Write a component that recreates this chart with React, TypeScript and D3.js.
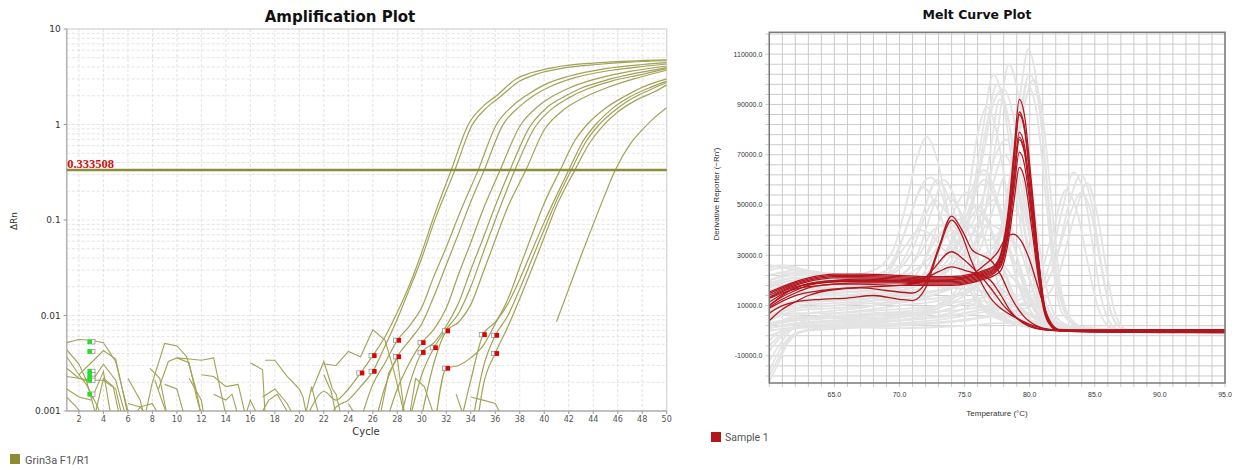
import React, { useEffect, useRef } from 'react';
import * as d3 from 'd3';

type Pt = [number, number | null];

// ---------- Amplification plot (cycle, ΔRn) ----------
const cycleTicks = [2, 4, 6, 8, 10, 12, 14, 16, 18, 20, 22, 24, 26, 28, 30, 32, 34, 36, 38, 40, 42, 44, 46, 48, 50];
const rnTicks = [10, 1, 0.1, 0.01, 0.001];
const rnTickLabels = ['10', '1', '0.1', '0.01', '0.001'];
const threshold = 0.333508;

// amplified wells
const ampCurves: Pt[][] = [
  [[20, 0.0005], [21, 0.0011], [22, 0.0016], [23, 0.0013], [24, 0.0017], [25, 0.0025], [26, 0.0038], [27, 0.006], [28, 0.0108], [29, 0.021], [30, 0.046], [31, 0.11], [32.4, 0.333], [33.8, 1.0], [35, 1.55], [36.1, 2.0], [37.7, 3.0], [39, 3.5], [41, 4.0], [44, 4.4], [47, 4.62], [50, 4.75]],
  [[22, 0.0006], [23, 0.0011], [24, 0.0013], [25, 0.0018], [26, 0.0026], [27, 0.0048], [28, 0.0092], [29, 0.019], [30, 0.04], [31, 0.095], [32.7, 0.333], [34.1, 0.98], [35.3, 1.5], [36.4, 1.95], [38, 2.85], [39.3, 3.35], [41.3, 3.85], [44.3, 4.25], [47, 4.5], [50, 4.65]],
  [[25, 0.0008], [26, 0.0019], [27, 0.0032], [28, 0.0055], [29, 0.0078], [30, 0.0122], [31, 0.026], [32, 0.052], [33, 0.11], [34.6, 0.333], [36.1, 1.0], [37.5, 1.6], [38.5, 2.0], [40, 2.6], [42, 3.2], [45, 3.85], [48, 4.25], [50, 4.45]],
  [[26, 0.0006], [27, 0.0018], [28, 0.0037], [29, 0.0055], [30, 0.0082], [31, 0.016], [32, 0.034], [33, 0.072], [34, 0.155], [35.1, 0.333], [36.6, 0.98], [38, 1.55], [39, 1.95], [40.5, 2.5], [42.5, 3.1], [45.5, 3.7], [48, 4.05], [50, 4.3]],
  [[27, 0.0007], [28, 0.0017], [29, 0.0032], [30, 0.0052], [31, 0.0072], [32, 0.012], [33, 0.027], [34, 0.058], [35, 0.128], [36.4, 0.333], [38, 0.96], [39.5, 1.55], [40.6, 1.95], [42, 2.4], [44, 2.95], [47, 3.6], [50, 4.1]],
  [[28, 0.0006], [29, 0.0019], [30, 0.0041], [31, 0.0052], [32, 0.0078], [33, 0.0135], [34, 0.03], [35, 0.064], [36, 0.14], [37.2, 0.333], [38.8, 0.94], [40.2, 1.5], [41.5, 1.92], [43, 2.4], [45, 2.9], [47.5, 3.45], [50, 3.95]],
  [[29, 0.0008], [30, 0.0024], [31, 0.0046], [32, 0.0072], [33, 0.0105], [34, 0.02], [35, 0.045], [36, 0.1], [37.6, 0.333], [39.2, 0.92], [40.6, 1.45], [42, 1.9], [43.5, 2.35], [45.5, 2.85], [48, 3.35], [50, 3.85]],
  [[30, 0.0009], [31, 0.0032], [32, 0.0069], [33, 0.0085], [34, 0.013], [35, 0.028], [36, 0.062], [37, 0.135], [38.5, 0.333], [40, 0.88], [41.5, 1.4], [43, 1.85], [45, 2.4], [47.5, 3.05], [50, 3.7]],
  [[31, 0.0006], [32, 0.0028], [33, 0.003], [34, 0.0036], [35, 0.0048], [36, 0.0082], [37, 0.0145], [38, 0.032], [39, 0.07], [40, 0.15], [41.3, 0.333], [42.5, 0.68], [43.5, 1.0], [45, 1.48], [46.5, 1.95], [48, 2.45], [50, 3.0]],
  [[33, 0.0006], [34, 0.0021], [35, 0.0063], [36, 0.0085], [37, 0.013], [38, 0.024], [39, 0.048], [40, 0.095], [41, 0.18], [42, 0.333], [43.2, 0.68], [44.2, 1.0], [45.5, 1.45], [47, 1.95], [48.5, 2.4], [50, 2.85]],
  [[34, 0.0006], [35, 0.0028], [36, 0.0062], [37, 0.0098], [38, 0.019], [39, 0.039], [40, 0.08], [41, 0.16], [42.2, 0.333], [43.4, 0.66], [44.4, 0.97], [45.8, 1.42], [47.2, 1.88], [48.6, 2.3], [50, 2.75]],
  [[34.5, 0.0007], [35, 0.0018], [36, 0.004], [37, 0.0075], [38, 0.015], [39, 0.031], [40, 0.066], [41, 0.14], [42.5, 0.333], [43.7, 0.64], [44.7, 0.94], [46, 1.35], [47.5, 1.8], [49, 2.2], [50, 2.6]],
  [[40, null], [41, 0.0086], [42, 0.019], [43, 0.042], [44, 0.09], [45, 0.19], [45.8, 0.333], [47, 0.62], [48, 0.88], [49, 1.18], [50, 1.5]],
];

// baseline noise of all wells (pieces between negative values)
const ampNoise: Pt[][] = [
  [[1, 0.0052], [2, 0.0056], [3, 0.0055], [4, 0.0052], [5, 0.0033], [5.6, 0.0016], [6.1, 0.0009]],
  [[1, 0.0037], [2, 0.0024], [2.6, 0.0019], [3.4, 0.0012], [3.8, 0.0009]],
  [[2, 0.0024], [3, 0.0032], [4, 0.0043], [5, 0.0035], [5.5, 0.0018], [6, 0.0009]],
  [[1, 0.0028], [2, 0.0022], [3, 0.002], [4, 0.0031], [5, 0.0021], [5.8, 0.0009]],
  [[1, 0.0023], [2, 0.0022], [3, 0.0021], [4, 0.0021], [5, 0.0017], [5.5, 0.0009]],
  [[1, 0.0017], [2, 0.0014], [3, 0.0013], [4, 0.0026], [4.6, 0.0009]],
  [[1, 0.0014], [1.8, 0.0011], [2.3, 0.0009]],
  [[1, 0.0044], [2, 0.0031], [2.6, 0.0021], [3.4, 0.0009]],
  [[3.3, 0.0009], [4, 0.0022], [4.8, 0.0018], [5.3, 0.0009]],
  [[6, 0.0022], [7, 0.0013], [7.3, 0.0009]],
  [[6, 0.0012], [7, 0.0011], [8, 0.0012], [8.5, 0.0009]],
  [[6.5, 0.0009], [7, 0.0011], [7.6, 0.0009]],
  [[7.8, 0.0028], [8.6, 0.0022], [9, 0.0012], [9.2, 0.0009]],
  [[7.4, 0.0009], [8, 0.002], [9, 0.0051], [10, 0.0048], [10.8, 0.0037], [11.5, 0.0018], [12, 0.0009]],
  [[8.5, 0.0017], [9.3, 0.0033], [10, 0.0036], [11, 0.0032], [11.6, 0.0014], [12, 0.0009]],
  [[8.2, 0.0021], [9.2, 0.0009]],
  [[10, 0.0036], [11, 0.0035], [12, 0.0034], [13, 0.0036], [13.5, 0.0018], [14, 0.0009]],
  [[9, 0.0019], [10, 0.0017], [10.6, 0.0009]],
  [[11, 0.0022], [12, 0.0013], [12.2, 0.0009]],
  [[12, 0.0024], [13, 0.0023], [14, 0.0018], [15, 0.0019], [15.6, 0.0009]],
  [[13, 0.0015], [14, 0.0013], [14.5, 0.0015], [15, 0.0009]],
  [[15.6, 0.0009], [16, 0.0013], [16.6, 0.0009]],
  [[16, 0.0032], [17, 0.0027], [17.2, 0.0009]],
  [[17.2, 0.0034], [18, 0.0034], [19, 0.0023], [20, 0.0017], [20.3, 0.0014], [20.6, 0.0009]],
  [[17, 0.0014], [18, 0.0017], [19, 0.0012], [19.5, 0.0009]],
  [[16.8, 0.0009], [17.5, 0.0013], [18.2, 0.0015], [18.8, 0.0011], [19.2, 0.0009]],
  [[20.5, 0.0009], [21, 0.0018], [21.6, 0.0009]],
  [[21, 0.0016], [22, 0.0033], [22.7, 0.0017], [23, 0.0015], [23.4, 0.0009]],
  [[22, 0.0031], [23, 0.003], [24, 0.0042], [25, 0.0037], [26, 0.0071], [27, 0.0055], [27.7, 0.0027], [28.6, 0.0009]],
  [[22, 0.0024], [22.6, 0.0016], [23, 0.0009]],
  [[24, 0.0012], [24.6, 0.0009]],
  [[26.6, 0.0009], [27.3, 0.0025], [28, 0.0036], [28.6, 0.0009]],
  [[29, 0.0009], [29.5, 0.0022], [30.2, 0.0018], [31, 0.0009]],
  [[32.8, 0.0015], [33.4, 0.0009]],
  [[34, 0.0014], [35, 0.0013], [36, 0.0012], [36.5, 0.0009]],
];

const baselineStart: [number, number][] = [[3, 0.0053], [3, 0.0042], [3, 0.0026], [3, 0.0024], [3, 0.0022], [3, 0.0021], [3, 0.0015]];
const baselineEnd: [number, number][] = [
  [25, 0.0025], [26, 0.0038], [26, 0.0026], [28, 0.0055], [28, 0.0037], [30, 0.0052], [30, 0.0041],
  [31, 0.0046], [32, 0.0069], [32, 0.0028], [35, 0.0063], [36, 0.0062], [36, 0.004],
];

// ---------- Melt curve plot (°C, derivative in thousands) ----------
const K = 1000;
const tempTicks = [65, 70, 75, 80, 85, 90, 95];
const derivTicks = [-10000, 10000, 30000, 50000, 70000, 90000, 110000];

const meltRed: Pt[][] = [
  [[60, 15.4], [61, 17.5], [62, 19.5], [63, 21], [64, 22], [65, 22.5], [67, 22.5], [70, 22], [72, 21.5], [74, 21.5], [75.5, 22.5], [76.5, 24], [77.3, 26], [77.8, 31], [78.4, 50], [78.8, 72], [79.2, 92], [79.6, 85.6], [80.1, 60.7], [80.6, 33], [81.1, 11], [81.6, 2.8], [82.2, 0.3], [84, -0.2], [88, -0.4], [92, -0.5], [95, -0.6]],
  [[60, 14.8], [61, 17], [62, 19], [63, 20.5], [64, 21.5], [65, 22], [67, 22], [70, 21.5], [72, 21], [74, 21], [75.5, 22], [76.5, 23.5], [77.3, 25.5], [77.8, 30], [78.4, 47.7], [78.8, 68.7], [79.2, 87], [79.6, 81], [80.1, 57.4], [80.6, 31.3], [81.1, 10.4], [81.6, 2.6], [82.2, 0.2], [84, -0.1], [88, -0.2], [92, -0.3], [95, -0.3]],
  [[60, 14.1], [61, 16.5], [62, 18.5], [63, 20], [64, 21], [65, 21.5], [67, 21.5], [70, 21], [72, 20.5], [74, 20.5], [75.5, 21.5], [76.5, 23], [77.3, 25], [77.8, 29.5], [78.4, 47], [78.8, 67.8], [79.2, 86], [79.6, 80], [80.1, 56.8], [80.6, 31], [81.1, 10.3], [81.6, 2.6], [82.2, 0.4], [84, 0.2], [88, 0.1], [92, 0.2], [95, 0.2]],
  [[60, 13.4], [61, 16], [62, 18], [63, 19.5], [64, 20.5], [65, 21], [67, 21], [70, 20.5], [72, 20], [74, 20], [75.5, 21], [76.5, 22.5], [77.3, 24.5], [77.8, 28.1], [78.4, 43.9], [78.8, 62.6], [79.2, 79], [79.6, 73.5], [80.1, 52.1], [80.6, 28.4], [81.1, 9.5], [81.6, 2.4], [82.2, 0], [84, -0.5], [88, -0.7], [92, -0.8], [95, -0.9]],
  [[60, 11.4], [61, 14.5], [62, 17], [63, 18.5], [64, 19.5], [65, 20], [67, 20.5], [70, 20], [72, 19.5], [74, 19.5], [75.5, 20.5], [76.5, 22], [77.3, 24], [77.8, 27.4], [78.4, 42.8], [78.8, 61], [79.2, 77], [79.6, 71.6], [80.1, 50.8], [80.6, 27.7], [81.1, 9.2], [81.6, 2.3], [82.2, 0.5], [84, 0.3], [88, 0.4], [92, 0.4], [95, 0.4]],
  [[60, 10.1], [61, 13.5], [62, 16], [63, 18], [64, 19], [65, 19.5], [67, 20], [70, 19.5], [72, 19], [74, 19], [75.5, 20], [76.5, 21.5], [77.3, 23.5], [77.8, 26.8], [78.4, 42.1], [78.8, 60.2], [79.2, 76], [79.6, 70.7], [80.1, 50.2], [80.6, 27.4], [81.1, 9.1], [81.6, 2.3], [82.2, 0.1], [84, -0.1], [88, -0.1], [92, -0.1], [95, -0.1]],
  [[60, 9.4], [61, 12.5], [62, 15], [63, 17], [64, 18], [65, 18.5], [67, 19], [70, 19], [72, 18.5], [74, 18.5], [75.5, 19.5], [76.5, 21], [77.3, 23], [77.8, 25.8], [78.4, 39.8], [78.8, 56.4], [79.2, 71], [79.6, 66], [80.1, 46.9], [80.6, 25.6], [81.1, 8.5], [81.6, 2.1], [82.2, 0], [84, -0.3], [88, -0.4], [92, -0.5], [95, -0.5]],
  [[60, 12.8], [61, 15], [62, 16.5], [63, 17.5], [64, 18], [65, 18.5], [67, 18.5], [70, 18], [72, 18], [74, 18], [75.5, 19], [76.5, 20.5], [77.3, 22], [77.8, 24.1], [78.4, 36.8], [78.8, 51.8], [79.2, 65], [79.6, 60.5], [80.1, 42.9], [80.6, 23.4], [81.1, 7.8], [81.6, 2], [82.2, 0.2], [84, 0.1], [88, 0], [92, 0.1], [95, 0.1]],
  [[60, 4], [61, 8.5], [62, 11.5], [63, 14], [64.5, 16], [67, 17], [69, 16], [71, 15], [72, 19], [73, 33], [74, 45.6], [74.8, 40], [75.6, 32], [76.3, 30], [77, 28], [77.8, 22], [78.5, 14], [79.5, 6], [80.5, 2], [81.5, 0.3], [84, -0.3], [88, -0.4], [95, -0.4]],
  [[60, 7], [61, 10], [62, 11.5], [64, 12.5], [66, 13], [68, 14], [70, 12.5], [71, 12], [72, 17], [73, 32], [74, 44], [74.8, 38], [75.5, 28], [76.2, 20], [77, 13], [78, 8], [79, 5], [80, 2.5], [81, 1], [82, 0.2], [85, -0.3], [90, -0.2], [95, 0]],
  [[60, 9], [62, 14], [64, 16], [66, 17], [68, 17.5], [70, 18], [71.5, 19], [72.5, 24], [74, 31.4], [75, 28], [76, 23], [77, 17], [78, 10], [79, 5], [80, 2], [81, 0.5], [83, -0.2], [90, -0.6], [95, -0.7]],
  [[60, 13], [62, 17.5], [64, 19], [66, 19.5], [68, 19.5], [70, 19.5], [72, 21], [73, 23.5], [74, 25.4], [75, 24], [76, 22.5], [77, 20], [77.8, 14], [78.5, 8], [79.5, 3], [80.5, 0.8], [82, 0], [88, 0.2], [95, 0.3]],
  [[60, 10], [61, 14], [62, 17], [64, 19.5], [66, 20], [70, 20], [73, 20], [75, 21], [76.5, 26], [77.5, 31], [78.2, 37], [78.75, 38.4], [79.3, 36], [80, 28], [80.6, 18], [81.2, 8], [81.8, 2], [82.5, 0], [88, -0.2], [95, -0.2]],
];

const meltGrey: Pt[][] = [
  [[60, 22], [62, 24], [64, 23], [66, 22], [68, 24], [69.5, 32], [70.5, 50], [71.3, 68], [72.1, 77], [72.9, 68], [73.7, 48], [74.5, 30], [75.5, 15], [76.5, 8], [78, 4], [80, 1.5], [82, 0.5], [86, 0.2]],
  [[60, 18], [62, 21], [64, 20], [66, 19], [68, 20], [69.5, 28], [70.6, 42], [71.6, 57], [72.4, 61], [73.2, 55], [74, 40], [75, 24], [76, 13], [77.5, 6], [79, 3], [81, 1], [86, 0]],
  [[60, 20], [62, 23], [65, 22], [68, 21], [70, 26], [71.5, 42], [72.9, 60], [74, 50], [75, 33], [76, 18], [77, 9], [79, 3], [81, 1], [86, 0.3]],
  [[60, 16], [62, 19], [65, 19], [68, 18], [70, 21], [71.5, 32], [72.5, 48], [73.4, 60], [74.3, 52], [75.3, 34], [76.3, 18], [77.5, 8], [79, 3], [82, 0.5], [86, 0]],
  [[60, 14], [62, 17], [65, 17], [68, 18], [69.5, 26], [70.8, 45], [71.8, 57], [72.8, 50], [73.8, 36], [75, 20], [76.3, 10], [78, 4], [81, 1], [86, 0]],
  [[60, 12], [62, 15], [65, 16], [68, 17], [70, 18], [71.5, 24], [72.8, 40], [73.8, 53], [74.8, 46], [75.8, 32], [76.8, 18], [78, 8], [80, 2], [83, 0.2], [86, 0]],
  [[60, 8], [62, 12], [65, 13], [68, 14], [71, 15], [74, 17], [76, 22], [77.5, 35], [78.5, 62], [79.3, 95], [79.9, 112], [80.5, 100], [81.2, 65], [81.8, 30], [82.5, 10], [83.3, 3], [85, 0.5], [87, 0]],
  [[60, 5], [62, 9], [65, 10], [68, 11], [71, 12], [74, 14], [76, 19], [77.7, 38], [78.8, 70], [80, 102], [80.7, 90], [81.4, 55], [82, 25], [82.7, 8], [83.5, 2], [86, 0]],
  [[60, -12], [61, -4], [62, 2], [64, 6], [67, 8], [70, 10], [73, 12], [75.5, 16], [77, 25], [78.3, 50], [79.2, 80], [79.8, 98], [80.5, 88], [81.2, 55], [81.8, 25], [82.5, 7], [84, 1], [87, 0]],
  [[60, 10], [62, 14], [65, 15], [68, 16], [71, 18], [73, 21], [74.5, 30], [75.5, 50], [76.4, 80], [77.2, 102], [78, 90], [78.8, 60], [79.5, 35], [80.3, 15], [81, 6], [82, 2], [84, 0.5], [87, 0]],
  [[60, 13], [62, 16], [65, 17], [68, 17], [71, 19], [73, 22], [74.8, 33], [75.8, 55], [76.7, 82], [77.5, 98], [78.3, 86], [79.1, 58], [79.8, 33], [80.6, 14], [81.5, 5], [83, 1], [87, 0]],
  [[60, 6], [62, 10], [65, 11], [68, 12], [71, 13], [73, 15], [75, 20], [76.3, 40], [77.5, 78], [78.4, 106], [79.2, 92], [80, 62], [80.8, 32], [81.5, 12], [82.3, 4], [84, 0.5], [87, 0]],
  [[60, 9], [62, 12], [65, 13], [68, 14], [71, 16], [73, 20], [74.3, 32], [75.3, 55], [76, 78], [76.7, 89], [77.5, 78], [78.3, 52], [79, 30], [80, 12], [81, 4], [83, 1], [87, 0]],
  [[60, 4], [62, 8], [65, 9], [68, 10], [71, 12], [73, 15], [75, 23], [76.2, 45], [77, 72], [77.7, 92], [78.5, 80], [79.3, 52], [80, 28], [80.8, 11], [81.7, 3], [84, 0.5], [87, 0]],
  [[60, 18], [62, 20], [64, 20], [67, 21], [69, 24], [70.5, 34], [71.5, 40], [72.5, 38], [73.5, 32], [74.5, 34], [75.5, 48], [76.5, 72], [77.3, 92], [78, 96], [78.8, 84], [79.6, 55], [80.4, 26], [81.2, 9], [82.2, 2], [85, 0]],
  [[60, 2], [62, 6], [65, 8], [68, 10], [70, 14], [71.5, 24], [73, 38], [74, 42], [75, 35], [76, 30], [77, 32], [78, 45], [79, 72], [79.7, 92], [80.3, 100], [81, 85], [81.7, 50], [82.3, 20], [83, 6], [84, 1.5], [86, 0]],
  [[60, 0], [63, 2], [66, 3], [70, 4], [74, 6], [76, 8], [78, 10], [80, 11], [81, 16], [82, 28], [83, 50], [83.9, 62], [84.7, 52], [85.4, 30], [86, 12], [86.6, 3], [87.5, 0]],
  [[60, -2], [62, 1], [66, 2], [70, 3], [74, 5], [77, 8], [79, 10], [80.5, 14], [81.5, 26], [82.5, 48], [83.35, 63], [84.2, 54], [84.9, 32], [85.5, 13], [86.2, 3], [87, 0]],
  [[60, -16], [61, -6], [62, -1], [64, 1], [68, 2], [72, 3], [76, 5], [79, 8], [81, 12], [82.2, 22], [83.4, 45], [84.4, 58.7], [85.2, 46], [85.9, 24], [86.5, 8], [87.2, 1], [88, 0]],
  [[60, 3], [63, 5], [66, 6], [70, 7], [74, 8], [77, 10], [79, 12], [80.5, 18], [81.7, 38], [82.8, 56], [83.7, 46], [84.5, 26], [85.2, 10], [86, 2], [87, 0]],
  [[60, 1], [63, 3], [67, 4], [71, 6], [74, 12], [75.5, 22], [76.5, 28], [77.5, 24], [79, 14], [80.5, 14], [81.8, 25], [83, 45], [84, 55], [84.8, 45], [85.5, 25], [86.2, 8], [87, 1], [88, 0]],
  [[60, 10], [62, 14], [65, 15], [68, 16], [70, 17], [72, 22], [73.5, 38], [74.4, 50], [75.1, 55], [75.9, 48], [76.8, 32], [77.8, 16], [79, 6], [80.5, 1.5], [83, 0], [86, 0]],
  [[60, 6], [62, 9], [65, 10], [68, 12], [70, 14], [72, 17], [73.8, 26], [75, 40], [76, 48], [77, 40], [78, 24], [79, 10], [80.2, 3], [82, 0.5], [86, 0]],
  [[60, 15], [62, 18], [65, 18], [68, 19], [70.5, 22], [72.5, 30], [74, 40], [75, 38], [76, 40], [77, 55], [78, 70], [78.8, 62], [79.6, 40], [80.4, 18], [81.3, 6], [82.5, 1], [86, 0]],
  [[60, 12], [62, 16], [65, 17], [68, 18], [71, 20], [73, 24], [74.5, 36], [75.6, 52], [76.5, 60], [77.4, 52], [78.3, 34], [79.2, 17], [80.2, 6], [81.5, 1.5], [84, 0], [87, 0]],
  [[60, -18], [60.8, -10], [61.6, -3], [63, 0], [66, 1], [70, 2], [73, 3], [76, 5], [78, 6], [80, 4], [82, 2], [84, 0.5], [87, 0]],
  [[60, -8], [61, -2], [62, 1], [65, 2], [68, 3], [71, 5], [74, 9], [76, 12], [77.5, 10], [79, 5], [81, 2], [83, 0.5], [87, 0]],
  [[60, 2], [62, 4], [65, 5], [68, 6], [71, 7], [73, 9], [75, 14], [76.5, 20], [78, 16], [79.5, 8], [81, 3], [83, 0.5], [86, 0]],
  [[60, 0], [62, 1], [65, 1.5], [70, 1], [75, 2], [78, 3], [80, 2], [83, 1], [86, 0]],
  [[60, -4], [61, 0], [63, 2], [66, 3], [70, 4], [73, 6], [75.5, 10], [77, 16], [78.3, 22], [79.3, 18], [80.5, 8], [82, 2], [84, 0], [87, 0]],
  [[60, 24], [61, 25], [62, 24], [64, 22], [67, 20], [70, 19], [72, 18], [74, 17], [76, 16], [78, 12], [80, 6], [82, 2], [84, 0.5], [87, 0]],
  [[60, 26], [61.5, 25], [63, 23], [66, 21], [70, 20], [74, 21], [76, 25], [77, 30], [78, 26], [79.5, 15], [81, 5], [83, 1], [86, 0]],
  [[60, -20], [60.6, -14], [61.3, -6], [62.2, -1], [64, 1], [68, 2], [72, 3], [75, 4], [78, 7], [80, 6], [82, 2], [85, 0]],
  [[60, 7], [62, 6], [64, 5], [67, 5], [70, 6], [72, 8], [74, 14], [75, 19], [76, 17], [77.5, 10], [79, 5], [81, 2], [84, 0.5], [87, 0]],
  [[60, 20], [62, 22], [65, 21], [68, 20], [71, 21], [73, 26], [74.5, 40], [75.7, 58], [76.5, 64], [77.3, 56], [78.2, 38], [79.2, 18], [80.3, 6], [81.5, 1.5], [84, 0], [87, 0]],
  [[60, 17], [62, 20], [65, 20], [68, 19], [71, 20], [73, 23], [75, 32], [76.3, 46], [77.2, 52], [78, 46], [79, 30], [80, 14], [81, 5], [82.5, 1], [86, 0]],
  [[60, 11], [62, 14], [65, 14], [68, 15], [71, 17], [72.8, 24], [74, 36], [74.9, 44], [75.8, 40], [76.8, 36], [77.8, 40], [78.7, 48], [79.5, 42], [80.3, 24], [81.2, 9], [82.3, 2], [86, 0]],
  [[60, 8], [62, 11], [65, 12], [68, 13], [70.5, 16], [72, 24], [73, 34], [73.9, 38], [74.9, 32], [76, 26], [77.3, 28], [78.3, 36], [79.1, 34], [80, 20], [81, 7], [82, 2], [86, 0]],
  [[60, 25], [61, 26], [63, 24], [66, 22], [69, 21], [72, 22], [74, 25], [75.5, 32], [76.8, 42], [77.8, 40], [78.8, 28], [80, 12], [81, 4], [83, 0.5], [87, 0]],
  [[60, 3], [62, 5], [65, 6], [68, 7], [71, 8], [73, 10], [74.5, 14], [76, 18], [77.5, 16], [79, 10], [80.5, 5], [82, 2], [84, 0.5], [87, 0]],
  [[60, -6], [61, -1], [62.5, 2], [65, 4], [68, 5], [71, 6], [73.5, 8], [75, 11], [76.5, 9], [78, 6], [80, 4], [82.5, 1.5], [85, 0.5], [87, 0]],
  [[60, 5], [62, 7], [65, 7], [68, 8], [71, 9], [73, 10], [75, 12], [77, 14], [78.5, 18], [79.5, 16], [80.5, 10], [81.5, 4], [83, 1], [86, 0]],
  [[60, 1], [62, 3], [65, 4], [68, 4], [72, 5], [75, 7], [77, 9], [79, 8], [81, 5], [83, 2], [85, 1], [87, 0]],
  [[60, 22], [61, 23], [63, 22], [66, 21], [69, 22], [70.8, 30], [72, 46], [72.7, 52], [73.5, 48], [74.3, 44], [75.2, 46], [76, 50], [76.8, 44], [77.8, 28], [79, 12], [80.5, 3], [83, 0.5], [87, 0]],
  [[60, 19], [62, 21], [65, 20], [68, 20], [70, 22], [71.5, 30], [72.6, 40], [73.5, 42], [74.5, 38], [75.5, 42], [76.6, 56], [77.4, 70], [78.2, 76], [79, 66], [79.8, 44], [80.6, 20], [81.5, 6], [83, 1], [87, 0]],
  [[60, 9], [62, 11], [65, 12], [68, 13], [71, 14], [73, 16], [75, 22], [76.3, 34], [77.3, 50], [78.2, 62], [79, 58], [79.8, 42], [80.7, 20], [81.7, 6], [83, 1], [87, 0]],
];

const OLIVE = '#a2a256';

function drawAmplification(svg: d3.Selection<SVGSVGElement, unknown, null, undefined>) {
  const left = 66.7, right = 666.7, top = 29, bottom = 411;
  const x = d3.scaleLinear().domain([1, 50]).range([left, right]);
  const y = d3.scaleLog().domain([0.001, 10]).range([bottom, top]);
  const g = svg.append('g');

  g.append('clipPath').attr('id', 'ampClip')
    .append('rect').attr('x', left).attr('y', top).attr('width', right - left).attr('height', bottom - top);

  // grid
  g.append('g').selectAll('line').data(y.ticks()).enter().append('line')
    .attr('x1', left).attr('x2', right)
    .attr('y1', d => y(d)).attr('y2', d => y(d))
    .attr('stroke', '#dcdcdc').attr('stroke-dasharray', '3,2').attr('stroke-width', 0.8);
  g.append('g').selectAll('line').data(cycleTicks).enter().append('line')
    .attr('x1', d => x(d)).attr('x2', d => x(d))
    .attr('y1', top).attr('y2', bottom)
    .attr('stroke', '#dcdcdc').attr('stroke-dasharray', '3,2').attr('stroke-width', 0.8);

  g.append('rect').attr('x', left).attr('y', top).attr('width', right - left).attr('height', bottom - top)
    .attr('fill', 'none').attr('stroke', '#d6d6d6').attr('stroke-width', 1.2);
  g.append('line').attr('x1', left).attr('x2', left).attr('y1', top).attr('y2', bottom)
    .attr('stroke', '#b4b4b4').attr('stroke-width', 1.5);
  g.append('line').attr('x1', left).attr('x2', right).attr('y1', bottom).attr('y2', bottom)
    .attr('stroke', '#b4b4b4').attr('stroke-width', 1.5);

  // ticks + labels
  g.append('g').selectAll('line').data(rnTicks).enter().append('line')
    .attr('x1', left - 3).attr('x2', left).attr('y1', d => y(d)).attr('y2', d => y(d))
    .attr('stroke', '#999');
  g.append('g').selectAll('text').data(rnTicks).enter().append('text')
    .attr('x', left - 6).attr('y', d => y(d)).attr('dy', '0.35em')
    .attr('text-anchor', 'end').attr('font-size', 9).attr('fill', '#333')
    .attr('font-family', 'DejaVu Sans, sans-serif')
    .text((d, i) => rnTickLabels[i]);
  g.append('g').selectAll('line').data(cycleTicks).enter().append('line')
    .attr('x1', d => x(d)).attr('x2', d => x(d)).attr('y1', bottom).attr('y2', bottom + 3)
    .attr('stroke', '#999');
  g.append('g').selectAll('text').data(cycleTicks).enter().append('text')
    .attr('x', d => x(d)).attr('y', bottom + 10.5)
    .attr('text-anchor', 'middle').attr('font-size', 8).attr('fill', '#555')
    .attr('font-family', 'DejaVu Sans, sans-serif')
    .text(d => String(d));

  const line = d3.line<Pt>()
    .defined(d => d[1] !== null)
    .x(d => x(d[0])).y(d => y(d[1] as number));

  const plot = g.append('g').attr('clip-path', 'url(#ampClip)');
  plot.selectAll('path.noise').data(ampNoise).enter().append('path')
    .attr('d', d => line.curve(d3.curveLinear)(d))
    .attr('fill', 'none').attr('stroke', OLIVE).attr('stroke-width', 1.1);
  plot.selectAll('path.amp').data(ampCurves).enter().append('path')
    .attr('d', d => line.curve(d3.curveMonotoneX)(d))
    .attr('fill', 'none').attr('stroke', OLIVE).attr('stroke-width', 1.2);

  // threshold
  g.append('line').attr('x1', left).attr('x2', right)
    .attr('y1', y(threshold)).attr('y2', y(threshold))
    .attr('stroke', '#8c8c3a').attr('stroke-width', 2.6);
  g.append('text').attr('x', left + 0.5).attr('y', y(threshold) - 2.5)
    .attr('font-family', 'Liberation Serif, serif').attr('font-weight', 'bold')
    .attr('font-size', 12.5).attr('fill', '#d01010').text(String(threshold));

  // baseline markers
  const mk = g.append('g');
  baselineStart.forEach(([c, v]) => {
    mk.append('rect').attr('x', x(c) + 0.5).attr('y', y(v) - 2.2).attr('width', 3.3).attr('height', 4.4)
      .attr('fill', '#fff').attr('stroke', '#888').attr('stroke-width', 0.7);
    mk.append('rect').attr('x', x(c) - 3.8).attr('y', y(v) - 2.4).attr('width', 4.4).attr('height', 4.8)
      .attr('fill', '#22e022');
  });
  baselineEnd.forEach(([c, v]) => {
    mk.append('rect').attr('x', x(c) - 3.8).attr('y', y(v) - 2.2).attr('width', 3.3).attr('height', 4.4)
      .attr('fill', '#fff').attr('stroke', '#888').attr('stroke-width', 0.7);
    mk.append('rect').attr('x', x(c) - 0.6).attr('y', y(v) - 2.4).attr('width', 4.4).attr('height', 4.8)
      .attr('fill', '#e00000');
  });

  // titles
  g.append('text').attr('x', 340).attr('y', 22).attr('text-anchor', 'middle')
    .attr('font-family', 'DejaVu Sans, sans-serif').attr('font-weight', 'bold').attr('font-size', 15)
    .attr('fill', '#111').text('Amplification Plot');
  g.append('text').attr('x', 366).attr('y', 435).attr('text-anchor', 'middle')
    .attr('font-family', 'DejaVu Sans, sans-serif').attr('font-size', 10).attr('fill', '#333').text('Cycle');
  g.append('text').attr('transform', 'translate(17,221) rotate(-90)').attr('text-anchor', 'middle')
    .attr('font-family', 'DejaVu Sans, sans-serif').attr('font-size', 9).attr('fill', '#333').text('ΔRn');

  // legend
  g.append('rect').attr('x', 10).attr('y', 454).attr('width', 10).attr('height', 10).attr('fill', '#8f8a36');
  g.append('text').attr('x', 25).attr('y', 463.5).attr('font-family', 'Roboto, sans-serif')
    .attr('font-size', 11).attr('fill', '#555').text('Grin3a F1/R1');
}

function drawMelt(svg: d3.Selection<SVGSVGElement, unknown, null, undefined>) {
  const left = 769.3, right = 1225, top = 32.3, bottom = 383;
  const x = d3.scaleLinear().domain([60, 95]).range([left, right]);
  const y = d3.scaleLinear().domain([-20800, 118700]).range([bottom, top]);
  const g = svg.append('g');

  g.append('clipPath').attr('id', 'meltClip')
    .append('rect').attr('x', left).attr('y', top).attr('width', right - left).attr('height', bottom - top);

  const hGrid = d3.range(-18000, 118001, 4000);
  const vGrid = d3.range(60, 95.01, 1);
  g.append('g').selectAll('line').data(hGrid).enter().append('line')
    .attr('x1', left - 4).attr('x2', right).attr('y1', d => y(d)).attr('y2', d => y(d))
    .attr('stroke', '#cbcbcb').attr('stroke-width', 1);
  g.append('g').selectAll('line').data(vGrid).enter().append('line')
    .attr('x1', d => x(d)).attr('x2', d => x(d)).attr('y1', top).attr('y2', bottom + 4)
    .attr('stroke', '#cbcbcb').attr('stroke-width', 1);

  const line = d3.line<Pt>()
    .defined(d => d[1] !== null)
    .x(d => x(d[0])).y(d => y((d[1] as number) * K))
    .curve(d3.curveMonotoneX);

  const plot = g.append('g').attr('clip-path', 'url(#meltClip)');
  plot.selectAll('path.grey').data(meltGrey).enter().append('path')
    .attr('d', d => line(d))
    .attr('fill', 'none').attr('stroke', '#e3e3e3').attr('stroke-width', 1.8);
  plot.selectAll('path.red').data(meltRed).enter().append('path')
    .attr('d', d => line(d))
    .attr('fill', 'none').attr('stroke', '#b3161f').attr('stroke-width', 1.3);

  g.append('rect').attr('x', left).attr('y', top).attr('width', right - left).attr('height', bottom - top)
    .attr('fill', 'none').attr('stroke', '#7a7a7a').attr('stroke-width', 1.5);

  g.append('g').selectAll('text').data(derivTicks).enter().append('text')
    .attr('x', left - 7).attr('y', d => y(d)).attr('dy', '0.35em').attr('text-anchor', 'end')
    .attr('font-family', 'Liberation Sans, Arial, sans-serif').attr('font-size', 7).attr('fill', '#333')
    .text(d => d.toFixed(1));
  g.append('g').selectAll('text').data(tempTicks).enter().append('text')
    .attr('x', d => x(d)).attr('y', bottom + 14).attr('text-anchor', 'middle')
    .attr('font-family', 'Liberation Sans, Arial, sans-serif').attr('font-size', 7).attr('fill', '#333')
    .text(d => d.toFixed(1));

  g.append('text').attr('x', 977).attr('y', 19).attr('text-anchor', 'middle')
    .attr('font-family', 'DejaVu Sans, sans-serif').attr('font-weight', 'bold').attr('font-size', 12.5)
    .attr('fill', '#111').text('Melt Curve Plot');
  g.append('text').attr('x', 997).attr('y', 416).attr('text-anchor', 'middle')
    .attr('font-family', 'Liberation Sans, Arial, sans-serif').attr('font-size', 8).attr('fill', '#333')
    .text('Temperature (°C)');
  g.append('text').attr('transform', 'translate(719,194) rotate(-90)').attr('text-anchor', 'middle')
    .attr('font-family', 'Liberation Sans, Arial, sans-serif').attr('font-size', 8).attr('fill', '#333')
    .text('Derivative Reporter (−Rn′)');

  g.append('rect').attr('x', 711).attr('y', 432).attr('width', 10).attr('height', 10).attr('fill', '#b3161f');
  g.append('text').attr('x', 725).attr('y', 441).attr('font-family', 'Roboto, sans-serif')
    .attr('font-size', 10.5).attr('fill', '#555').text('Sample 1');
}

export default function App() {
  const ref = useRef<SVGSVGElement>(null);

  useEffect(() => {
    if (!ref.current) return;
    const svg = d3.select(ref.current);
    svg.selectAll('*').remove();
    drawAmplification(svg);
    drawMelt(svg);
  }, []);

  return (
    <svg ref={ref} width={1238} height={470}
      style={{ position: 'absolute', left: 0, top: 0, background: '#fff' }} />
  );
}
